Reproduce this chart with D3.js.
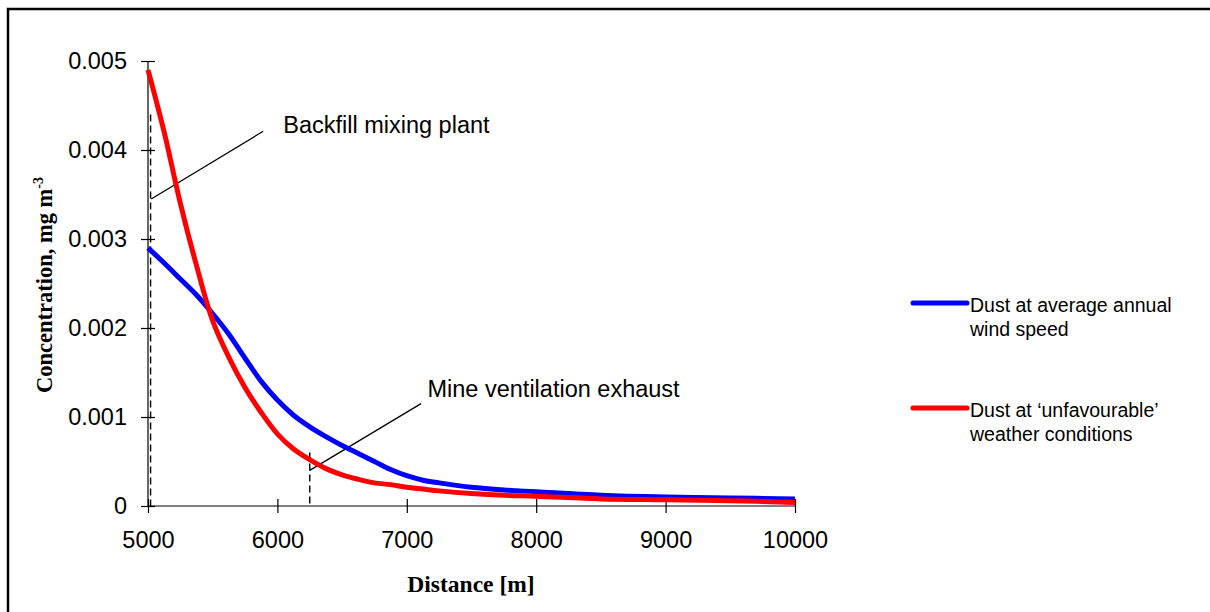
<!DOCTYPE html>
<html><head><meta charset="utf-8">
<script src="https://cdn.jsdelivr.net/npm/d3@7"></script>
<style>
html,body{margin:0;padding:0;background:#fff;}
svg{display:block;}
</style></head>
<body>
<svg id="chart" width="1210" height="612"></svg>
<script>
// ---- data ----
const distance = [5000, 5125, 5250, 5375, 5500, 5625, 5750, 5875, 6000, 6125, 6250, 6375, 6500, 6625, 6750, 6875, 7000, 7125, 7250, 7500, 7750, 8000, 8500, 9000, 9500, 10000];
const dustAverage = [0.00290, 0.00273, 0.00255, 0.00237, 0.00216, 0.00193, 0.00166, 0.00140, 0.00119, 0.00102, 0.00089, 0.00078, 0.00068, 0.00059, 0.00050, 0.00041, 0.00034, 0.00029, 0.00026, 0.00021, 0.00018, 0.00016, 0.00012, 0.00010, 0.00009, 0.00008];
const dustUnfavourable = [0.00490, 0.00420, 0.00340, 0.00270, 0.00208, 0.00167, 0.00133, 0.00105, 0.00081, 0.00064, 0.00052, 0.00042, 0.00035, 0.00030, 0.00026, 0.00024, 0.00021, 0.00019, 0.00017, 0.00014, 0.00012, 0.00011, 0.00008, 0.00007, 0.00006, 0.00004];
const seriesNames = ["Dust at average annual|wind speed", "Dust at \u2018unfavourable\u2019|weather conditions"];
const seriesColors = ["#0000ff", "#ff0000"];
const xTicks = [5000, 6000, 7000, 8000, 9000, 10000];
const yTicks = [0, 0.001, 0.002, 0.003, 0.004, 0.005];
const yTickLabels = ["0", "0.001", "0.002", "0.003", "0.004", "0.005"];
const sources = [
  {label: "Backfill mixing plant", x: 5020, yTop: 0.00440, lx0: 5025, ly0: 0.00345, lx1: 5890, ly1: 0.00421, tx: 6045, ty: 0.00419},
  {label: "Mine ventilation exhaust", x: 6250, yTop: 0.00060, lx0: 6250, ly0: 0.00040, lx1: 7110, ly1: 0.00115, tx: 7160, ty: 0.00122}
];

// ---- layout ----
const svg = d3.select("#chart");
const x = d3.scaleLinear().domain([5000, 10000]).range([148, 795]);
const y = d3.scaleLinear().domain([0, 0.005]).range([506, 61]);

// outer frame
svg.append("rect").attr("x", 8).attr("y", 9).attr("width", 1300).attr("height", 700)
  .attr("fill", "none").attr("stroke", "#000").attr("stroke-width", 2.5);

// axes
const gx = svg.append("g").attr("transform", `translate(0,${y(0)})`)
  .call(d3.axisBottom(x).tickValues(xTicks).tickSize(7).tickPadding(18).tickFormat(d3.format("d")));
gx.selectAll(".tick line").attr("y1", -7).attr("y2", 7);
const gy = svg.append("g").attr("transform", `translate(${x(5000)},0)`)
  .call(d3.axisLeft(y).tickValues(yTicks).tickSize(7).tickPadding(14).tickFormat((d,i)=>yTickLabels[i]));
gy.selectAll(".tick line").attr("x1", -7).attr("x2", 7);
[gx, gy].forEach(g => {
  g.select(".domain").attr("stroke", "#000").attr("stroke-width", 1.2);
  g.selectAll(".tick line").attr("stroke", "#000").attr("stroke-width", 1.2);
  g.selectAll(".tick text").attr("fill", "#000").style("font-family", "Arial, 'Liberation Sans', sans-serif").style("font-size", "23.5px");
});
gx.select(".domain").attr("d", `M${x(5000)},0H${x(10000)}`);
gy.select(".domain").attr("d", `M0,${y(0)}V${y(0.005)}`);

// axis titles
svg.append("text").attr("x", 471).attr("y", 592).attr("text-anchor", "middle")
  .style("font-family", "'Times New Roman', 'Liberation Serif', serif").style("font-weight", "bold").style("font-size", "23.5px")
  .text("Distance [m]");
const yt = svg.append("text").attr("transform", "translate(52,285) rotate(-90)").attr("text-anchor", "middle")
  .style("font-family", "'Times New Roman', 'Liberation Serif', serif").style("font-weight", "bold").style("font-size", "22.5px");
yt.append("tspan").text("Concentration, mg m");
yt.append("tspan").attr("dy", -9).style("font-size", "14px").text("-3");

// source markers (dashed) and leader lines
sources.forEach(s => {
  svg.append("line").attr("x1", x(s.x)).attr("x2", x(s.x)).attr("y1", y(s.yTop)).attr("y2", y(0))
    .attr("stroke", "#000").attr("stroke-width", 1.4).attr("stroke-dasharray", "7,4");
  svg.append("line").attr("x1", x(s.lx0)).attr("y1", y(s.ly0)).attr("x2", x(s.lx1)).attr("y2", y(s.ly1))
    .attr("stroke", "#000").attr("stroke-width", 1.3);
  svg.append("text").attr("x", x(s.tx)).attr("y", y(s.ty))
    .style("font-family", "Arial, 'Liberation Sans', sans-serif").style("font-size", "23.5px").text(s.label);
});

// lines
const line = d3.line().x((d,i)=>x(distance[i])).y(d=>y(d)).curve(d3.curveCatmullRom.alpha(0.5));
[dustAverage, dustUnfavourable].forEach((vals, k) => {
  svg.append("path").datum(vals).attr("d", line).attr("fill", "none")
    .attr("stroke", seriesColors[k]).attr("stroke-width", 5).attr("stroke-linejoin", "round");
});

// legend
const legendY = [303, 408];
seriesNames.forEach((name, k) => {
  const g = svg.append("g");
  g.append("line").attr("x1", 913).attr("x2", 967).attr("y1", legendY[k]).attr("y2", legendY[k])
    .attr("stroke", seriesColors[k]).attr("stroke-width", 5).attr("stroke-linecap", "round");
  name.split("|").forEach((t, j) => {
    g.append("text").attr("x", 970).attr("y", legendY[k] + 9 + j*24)
      .style("font-family", "Arial, 'Liberation Sans', sans-serif").style("font-size", "19.5px").text(t);
  });
});
</script>
</body></html>
